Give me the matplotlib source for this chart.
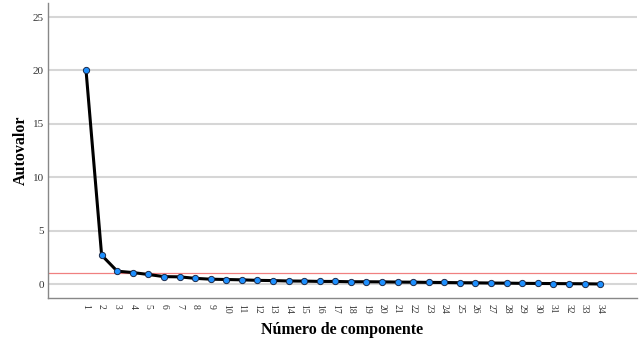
import matplotlib
matplotlib.use("Agg")
import matplotlib.pyplot as plt

components = list(range(1, 35))
eigenvalues = [20.0, 2.71, 1.21, 1.08, 0.90, 0.70, 0.68, 0.54, 0.46, 0.43,
               0.40, 0.35, 0.33, 0.29, 0.28, 0.25, 0.25, 0.22, 0.22, 0.21,
               0.19, 0.18, 0.16, 0.15, 0.13, 0.12, 0.10, 0.09, 0.07, 0.06,
               0.05, 0.04, 0.03, 0.01]
threshold = 1.0
yticks = [0, 5, 10, 15, 20, 25]

plt.rcParams['font.family'] = ['Liberation Serif', 'DejaVu Serif']

fig = plt.figure(figsize=(6.43, 3.42), dpi=100)
ax = fig.add_axes([0.0747, 0.1287, 0.916, 0.862])

for y in yticks:
    ax.axhline(y, color='#d6d6d6', lw=1.5, zorder=0)
ax.axhline(threshold, color='#f08080', lw=0.9, zorder=1)
ax.plot(components, eigenvalues, color='black', lw=2.2, zorder=2,
        marker='o', markersize=4.5, markerfacecolor='#1e90ff',
        markeredgecolor='#1a2a4a', markeredgewidth=0.7)

ax.set_xlim(-1.44, 36.37)
ax.set_ylim(-1.3, 26.3)
ax.set_yticks(yticks)
ax.set_xticks(components)
ax.set_xticklabels([str(c) for c in components], rotation=-90, fontsize=7, color='#333333')
ax.tick_params(axis='y', length=0, labelsize=8, labelcolor='#333333', pad=3)
ax.tick_params(axis='x', length=0, pad=4)

for s in ['top', 'right']:
    ax.spines[s].set_visible(False)
for s in ['left', 'bottom']:
    ax.spines[s].set_color('#888888')
    ax.spines[s].set_linewidth(1)

ax.set_ylabel('Autovalor', fontsize=11.5, fontweight='bold', labelpad=3)
ax.set_xlabel('Número de componente', fontsize=11.5, fontweight='bold', labelpad=6)

fig.savefig('out.png', dpi=100)
